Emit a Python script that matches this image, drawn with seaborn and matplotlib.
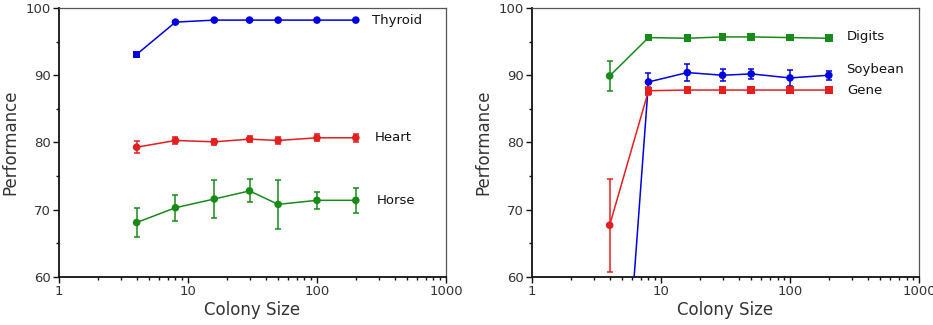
import numpy as np
import pandas as pd
import matplotlib
matplotlib.use("Agg")
import matplotlib.pyplot as plt
import seaborn as sns

colony = [4, 8, 16, 30, 50, 100, 200]

thyroid = [93.1, 97.9, 98.2, 98.2, 98.2, 98.2, 98.2]
thyroid_err = [0.3, 0.15, 0.1, 0.1, 0.1, 0.1, 0.1]
heart = [79.3, 80.3, 80.1, 80.5, 80.3, 80.7, 80.7]
heart_err = [0.9, 0.5, 0.4, 0.5, 0.5, 0.5, 0.6]
horse = [68.1, 70.3, 71.6, 72.8, 70.8, 71.4, 71.4]
horse_err = [2.2, 1.9, 2.85, 1.7, 3.6, 1.3, 1.9]

digits = [89.9, 95.6, 95.5, 95.7, 95.7, 95.6, 95.5]
digits_err = [2.2, 0.2, 0.4, 0.2, 0.2, 0.4, 0.2]
soybean = [10.6, 89.0, 90.4, 90.0, 90.2, 89.6, 90.0]
soybean_err = [0.0, 1.4, 1.2, 0.9, 0.8, 1.2, 0.7]
gene = [67.7, 87.7, 87.8, 87.8, 87.8, 87.8, 87.8]
gene_err = [6.9, 0.6, 0.5, 0.4, 0.3, 0.4, 0.4]

BLUE = "#0000E0"
RED = "#E51E1E"
GREEN = "#178A17"

# marker for first point, marker for the rest
left_series = [
    ("Thyroid", thyroid, thyroid_err, BLUE, ("s", "o"), (265, 98.2)),
    ("Heart", heart, heart_err, RED, ("o", "o"), (279, 80.7)),
    ("Horse", horse, horse_err, GREEN, ("o", "o"), (290, 71.4)),
]
right_series = [
    ("Digits", digits, digits_err, GREEN, ("o", "s"), (274, 95.7)),
    ("Soybean", soybean, soybean_err, BLUE, ("o", "o"), (270, 90.9)),
    ("Gene", gene, gene_err, RED, ("o", "s"), (277, 87.7)),
]

sns.set_theme(style="ticks")
plt.rcParams["font.family"] = ["DejaVu Sans"]

fig = plt.figure(figsize=(9.33, 3.25), dpi=100)
ax1 = fig.add_axes([0.0632, 0.1477, 0.4148, 0.8277])
ax2 = fig.add_axes([0.5702, 0.1477, 0.4148, 0.8277])

for ax, series in ((ax1, left_series), (ax2, right_series)):
    for name, vals, errs, col, (m0, m1), (tx, ty) in series:
        df = pd.DataFrame({"x": colony, "y": vals})
        df["kind"] = ["first"] + ["rest"] * (len(colony) - 1)
        sns.lineplot(data=df, x="x", y="y", ax=ax, color=col,
                     linewidth=1.1, zorder=3)
        sns.scatterplot(data=df, x="x", y="y", ax=ax, color=col,
                        style="kind", markers={"first": m0, "rest": m1},
                        s=30, linewidth=0, legend=False, zorder=4)
        ax.errorbar(colony, vals, yerr=errs, fmt="none", ecolor=col,
                    elinewidth=1.1, capsize=2.5, capthick=1.1, zorder=3)
        ax.text(tx, ty, name, fontsize=9.5, color="#111111",
                va="center", ha="left", family="DejaVu Sans")
    ax.set_xscale("log")
    ax.set_xlim(1, 1000)
    ax.set_ylim(60, 100)
    ax.set_yticks([60, 70, 80, 90, 100])
    ax.set_yticks([65, 75, 85, 95], minor=True)
    ax.set_xticks([1, 10, 100, 1000])
    ax.set_xticklabels(["1", "10", "100", "1000"])
    ax.set_yticklabels(["60", "70", "80", "90", "100"])
    ax.set_xlabel("Colony Size", fontsize=12, color="#333333", labelpad=2)
    ax.set_ylabel("Performance", fontsize=12, color="#333333", labelpad=4)
    ax.tick_params(axis="both", which="major", direction="out", length=4,
                   width=1, labelsize=9.5, colors="#111111",
                   labelcolor="#333333", pad=2)
    ax.tick_params(axis="both", which="minor", direction="out", length=2.5,
                   width=1, colors="#111111")
    for s in ["left", "bottom"]:
        ax.spines[s].set_linewidth(1.3)
        ax.spines[s].set_color("#111111")
    for s in ["top", "right"]:
        ax.spines[s].set_visible(True)
        ax.spines[s].set_linewidth(0.9)
        ax.spines[s].set_color("#555555")
    ax.grid(False)

fig.savefig("out.png", dpi=100)
